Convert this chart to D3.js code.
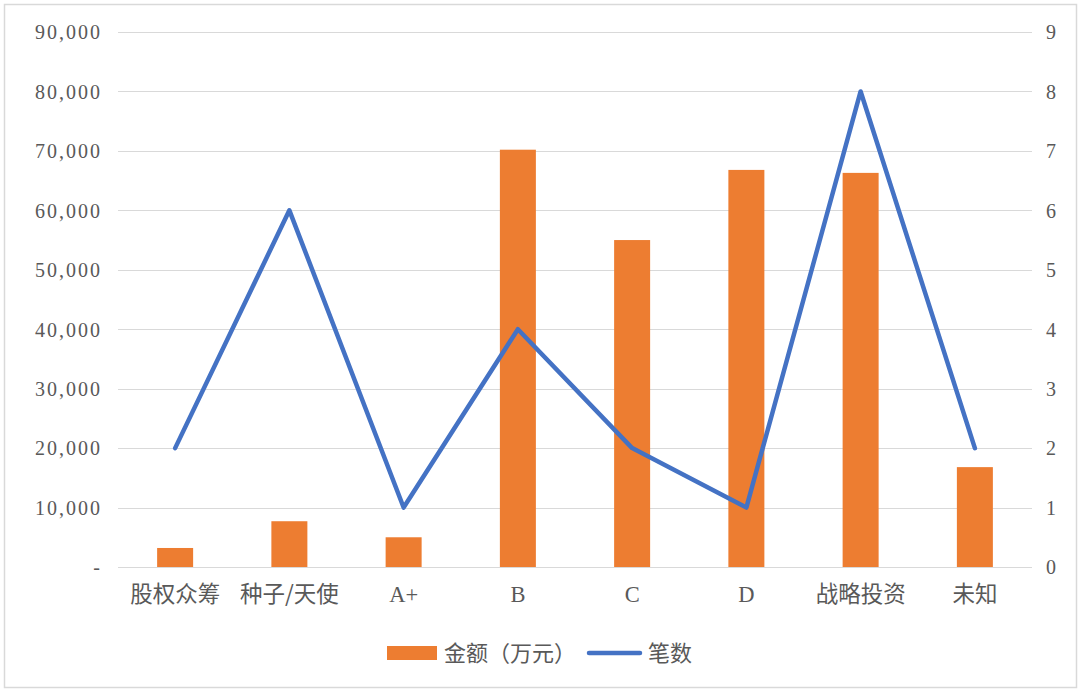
<!DOCTYPE html>
<html><head><meta charset="utf-8">
<script src="https://cdn.jsdelivr.net/npm/d3@7"></script>
<style>
html,body{margin:0;padding:0;background:#fff;}
svg{display:block;}
</style></head>
<body>
<svg id="chart" width="1080" height="693"></svg>
<script>
const categories = ["股权众筹","种子/天使","A+","B","C","D","战略投资","未知"];
const amounts = [3200, 7700, 5000, 70200, 55000, 66800, 66300, 16800];
const counts = [2, 6, 1, 4, 2, 1, 8, 2];
const leftTicks = [0,10000,20000,30000,40000,50000,60000,70000,80000,90000];
const rightTicks = [0,1,2,3,4,5,6,7,8,9];
const seriesNames = ["金额（万元）","笔数"];

const svg = d3.select("#chart");
const W = 1080, H = 693;
const m = {left:118, right:48, top:32, bottom:126};
const x0 = m.left, x1 = W - m.right, y0 = H - m.bottom, y1 = m.top;
const orange = "#ED7D31", blue = "#4472C4", grid = "#D9D9D9", txt = "#595959";

svg.append("rect").attr("x",4.5).attr("y",4.5).attr("width",1072).attr("height",683)
  .attr("fill","#fff").attr("stroke","#D9D9D9").attr("stroke-width",1.5);

const x = d3.scaleBand().domain(categories).range([x0,x1]).paddingInner(0).paddingOuter(0);
const yL = d3.scaleLinear().domain([0,90000]).range([y0,y1]);
const yR = d3.scaleLinear().domain([0,9]).range([y0,y1]);

// gridlines
svg.append("g").selectAll("line").data(leftTicks).join("line")
  .attr("x1",x0).attr("x2",x1)
  .attr("y1",d=>Math.round(yL(d))+0.5).attr("y2",d=>Math.round(yL(d))+0.5)
  .attr("stroke",grid).attr("stroke-width",1.2);

// left axis
const fmt = d3.format(",");
const axL = d3.axisLeft(yL).tickValues(leftTicks).tickSize(0).tickPadding(16)
  .tickFormat(d => d === 0 ? "-" : fmt(d));
const gL = svg.append("g").attr("transform",`translate(${x0},0)`).call(axL);
gL.select(".domain").remove();
gL.selectAll("text").attr("fill",txt).style("font-family","'Liberation Serif','DejaVu Serif',serif")
  .style("font-size","20px").style("letter-spacing","2px").attr("dy","0.34em");

// right axis
const axR = d3.axisRight(yR).tickValues(rightTicks).tickSize(0).tickPadding(14);
const gR = svg.append("g").attr("transform",`translate(${x1},0)`).call(axR);
gR.select(".domain").remove();
gR.selectAll("text").attr("fill",txt).style("font-family","'Liberation Serif','DejaVu Serif',serif")
  .style("font-size","20px").attr("dy","0.34em");

// bars
const bw = 36;
svg.append("g").selectAll("rect").data(categories).join("rect")
  .attr("x",(d)=>x(d)+x.bandwidth()/2-bw/2)
  .attr("width",bw)
  .attr("y",(d,i)=>yL(amounts[i]))
  .attr("height",(d,i)=>y0-yL(amounts[i]))
  .attr("fill",orange);

// line
const line = d3.line().x((d,i)=>x(categories[i])+x.bandwidth()/2).y(d=>yR(d));
svg.append("path").datum(counts).attr("d",line)
  .attr("fill","none").attr("stroke",blue).attr("stroke-width",4.5)
  .attr("stroke-linejoin","round").attr("stroke-linecap","round");

// x labels
const axB = d3.axisBottom(x).tickSize(0).tickPadding(19);
const gB = svg.append("g").attr("transform",`translate(0,${y0})`).call(axB);
gB.select(".domain").remove();
gB.selectAll("text").attr("fill",txt)
  .style("font-family",d=>/^[A-Z]\+?$/.test(d) ? "'Liberation Serif','DejaVu Serif',serif" : "'Noto Sans CJK SC','Noto Sans',sans-serif")
  .style("font-size","22.5px");

// legend
const lg = svg.append("g");
lg.append("rect").attr("x",387).attr("y",646).attr("width",50).attr("height",14).attr("fill",orange);
lg.append("text").attr("x",444).attr("y",653).attr("dy","0.35em").text(seriesNames[0])
  .attr("fill",txt).style("font-family","'Noto Sans CJK SC',sans-serif").style("font-size","22px");
lg.append("line").attr("x1",589).attr("x2",640).attr("y1",653).attr("y2",653)
  .attr("stroke",blue).attr("stroke-width",4.5).attr("stroke-linecap","round");
lg.append("text").attr("x",648).attr("y",653).attr("dy","0.35em").text(seriesNames[1])
  .attr("fill",txt).style("font-family","'Noto Sans CJK SC',sans-serif").style("font-size","22px");
</script>
</body></html>
